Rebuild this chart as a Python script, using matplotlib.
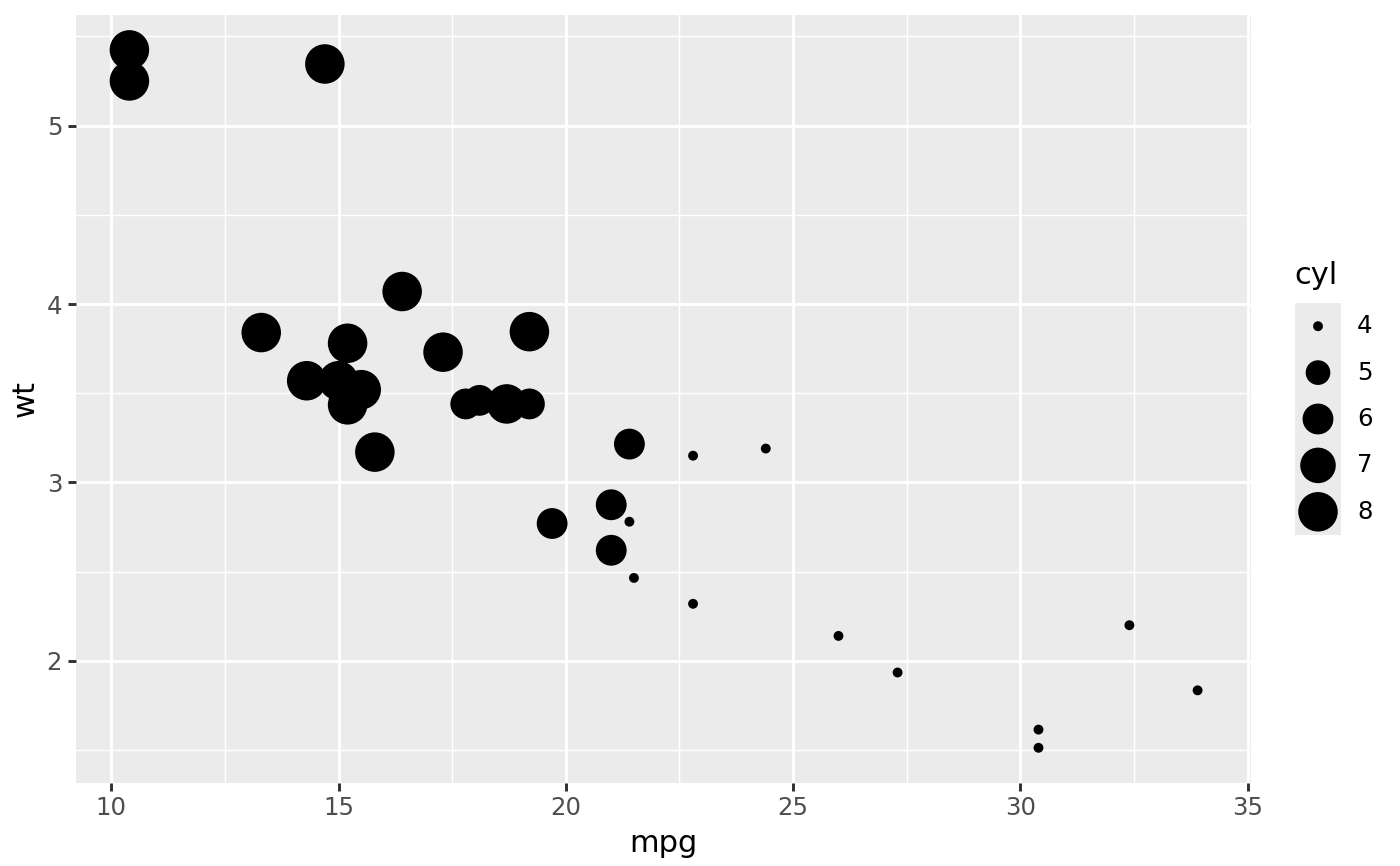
"""mtcars: weight vs fuel economy, point size by cylinder count (ggplot look)."""

import matplotlib
matplotlib.use("Agg")
import matplotlib.pyplot as plt
import numpy as np

mpg = [21.0, 21.0, 22.8, 21.4, 18.7, 18.1, 14.3, 24.4, 22.8, 19.2, 17.8,
       16.4, 17.3, 15.2, 10.4, 10.4, 14.7, 32.4, 30.4, 33.9, 21.5, 15.5,
       15.2, 13.3, 19.2, 27.3, 26.0, 30.4, 15.8, 19.7, 15.0, 21.4]
wt = [2.620, 2.875, 2.320, 3.215, 3.440, 3.460, 3.570, 3.190, 3.150, 3.440,
      3.440, 4.070, 3.730, 3.780, 5.250, 5.424, 5.345, 2.200, 1.615, 1.835,
      2.465, 3.520, 3.435, 3.840, 3.845, 1.935, 2.140, 1.513, 3.170, 2.770,
      3.570, 2.780]
cyl = [6, 6, 4, 6, 8, 6, 8, 4, 4, 6, 6, 8, 8, 8, 8, 8, 8, 4, 4, 4, 4, 8,
       8, 8, 8, 4, 4, 4, 8, 6, 8, 4]

legend_breaks = [4, 5, 6, 7, 8]
x_ticks = [10, 15, 20, 25, 30, 35]
y_ticks = [2, 3, 4, 5]

PT = 72.27 / 25.4
STROKE_PT = 0.5 * 96 / 25.4 / 2 * 0.75  # point outline width in pt


def size_of(c, lo=4, hi=8):
    # ggplot scale_size: area palette over range 1..6
    return 1 + 5 * np.sqrt((np.asarray(c, float) - lo) / (hi - lo))


def marker_area(c):
    fontsize = size_of(c) * PT + 0.5 * 96 / 25.4 / 2
    return (0.75 * fontsize) ** 2


fig = plt.figure(figsize=(7, 4.33), dpi=200)
ax = fig.add_axes([76 / 1400, 1 - 782.7 / 866, (1251 - 76) / 1400,
                   (782.7 - 15) / 866])
ax.set_facecolor("#EBEBEB")
for s in ax.spines.values():
    s.set_visible(False)

ax.scatter(mpg, wt, s=marker_area(cyl), c="black", edgecolors="black",
           linewidths=STROKE_PT, zorder=3)

xr = max(mpg) - min(mpg)
yr = max(wt) - min(wt)
ax.set_xlim(min(mpg) - 0.05 * xr, max(mpg) + 0.05 * xr)
ax.set_ylim(min(wt) - 0.05 * yr, max(wt) + 0.05 * yr)

ax.set_xticks(x_ticks)
ax.set_yticks(y_ticks)
ax.set_xticks([12.5, 17.5, 22.5, 27.5, 32.5], minor=True)
ax.set_yticks([1.5, 2.5, 3.5, 4.5, 5.5], minor=True)
ax.grid(True, which="major", color="white", linewidth=1.07)
ax.grid(True, which="minor", color="white", linewidth=0.53)
ax.set_axisbelow(True)
ax.tick_params(which="major", length=2.75, width=1.07, color="#333333",
               labelsize=8.8, labelcolor="#4D4D4D", pad=2.2)
ax.tick_params(which="minor", length=0)
ax.set_xlabel("mpg", fontsize=11, labelpad=3)
ax.set_ylabel("wt", fontsize=11, labelpad=2.5)

# legend for point size
lax = fig.add_axes([1295 / 1400, 1 - 535 / 866, 46 / 1400, 232 / 866])
lax.set_facecolor("#EBEBEB")
for s in lax.spines.values():
    s.set_visible(False)
lax.set_xticks([])
lax.set_yticks([])
lax.set_xlim(0, 1)
lax.set_ylim(len(legend_breaks) - 0.5, -0.5)
pos = np.arange(len(legend_breaks))
lax.scatter([0.5] * len(pos), pos, s=marker_area(legend_breaks), c="black",
            edgecolors="black", linewidths=STROKE_PT)
for i, b in enumerate(legend_breaks):
    fig.text(1357 / 1400, 1 - (303 + 46.4 * (i + 0.5)) / 866, str(b),
             fontsize=8.8, va="center", ha="left")
fig.text(1294 / 1400, 1 - 276 / 866, "cyl", fontsize=11, va="center",
         ha="left")

fig.savefig("out.png", dpi=200)
